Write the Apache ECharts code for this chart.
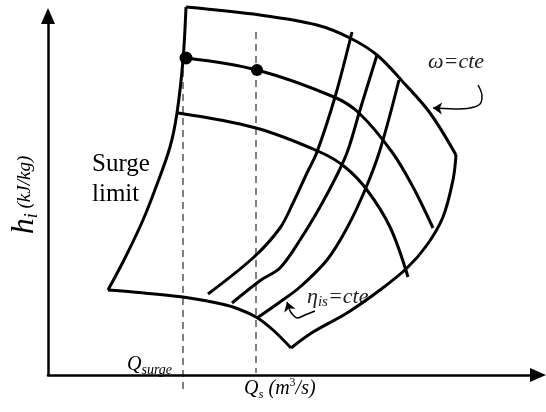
<!DOCTYPE html>
<html lang="en">
<head>
    <meta charset="UTF-8">
    <title>Compressor map</title>
    <style>
        * { margin: 0; padding: 0; }
        #main { width: 546px; height: 412px; background: #fff; }
    </style>
    <script src="https://cdn.jsdelivr.net/npm/echarts@6/dist/echarts.min.js"></script>
</head>
<body>
<div id="main"></div>
<script>
    // all points are [flow, head] in the chart's own units (origin at the axes corner)
    var topEdge = [[138, 368], [212, 360], [269, 350], [302, 337], [329, 320], [355, 293], [382, 262], [408, 220]];
    var rightEdge = [[408, 220], [405, 195], [395, 158], [379, 130], [359, 107], [332, 85], [299, 62], [265, 43], [243, 27]];
    var bottomEdge = [[243, 27], [225, 45], [208, 58], [185, 68], [169, 72], [135, 78], [85, 83], [60, 85]];
    var surgeLimit = [[60, 85], [77, 117], [95, 155], [108, 188], [122, 228], [129, 262], [135, 315], [138, 368]];

    // constant speed lines
    var speed2 = [[138, 317], [209, 305], [286, 278], [311, 262], [344, 223], [365, 188], [385, 147]];
    var speed3 = [[130, 262], [208, 247], [272, 223], [297, 208], [319, 185], [342, 148], [360, 98]];

    // constant efficiency lines
    var eta1 = [[160, 81], [206, 118], [232, 147], [245, 172], [259, 202], [269, 223], [287, 278], [304, 343]];
    var eta2 = [[184, 72], [213, 95], [232, 107], [252, 135], [272, 168], [290, 202], [300, 225], [312, 265], [329, 320]];
    var eta3 = [[209, 57], [232, 73], [252, 88], [279, 115], [299, 147], [317, 185], [332, 225], [351, 295]];

    var opPoints = [[138, 317, 13], [209, 305, 12]];
    var qSurge = [[135, 317], [135, -17]];
    var qOp = [[208, 343], [208, 2]];

    var omegaArrow = [[430, 290], [434, 279], [432, 271], [422, 267], [407, 266]];
    var omegaHead = [[407, 266], [385, 267]];
    var etaArrow = [[267, 64], [257, 60], [249, 57], [245, 60], [242, 64]];
    var etaHead = [[242, 64], [239, 73]];

    var SERIF = 'Liberation Serif';

    function curve(data, width, dashed) {
        return {
            type: 'line',
            data: data,
            smooth: dashed ? false : 0.35,
            symbol: 'none',
            clip: false,
            silent: true,
            lineStyle: { color: '#000', width: width, type: dashed ? [7, 5] : 'solid' }
        };
    }

    function head(data) {
        return {
            type: 'lines',
            coordinateSystem: 'cartesian2d',
            symbol: ['none', 'arrow'],
            symbolSize: 9,
            silent: true,
            lineStyle: { color: '#000', width: 1.5, opacity: 1 },
            data: [{ coords: data }]
        };
    }

    function it(size, lh, va) {
        return { fontFamily: SERIF, fontSize: size, fontStyle: 'italic', lineHeight: lh, verticalAlign: va };
    }

    var myChart = echarts.init(document.getElementById('main'));
    var option = {
        animation: false,
        backgroundColor: '#fff',
        grid: { left: 48, right: 8, top: 16, bottom: 37 },
        xAxis: {
            type: 'value', min: 0, max: 490,
            axisLine: { symbol: ['none', 'triangle'], symbolSize: [14, 16], lineStyle: { color: '#000', width: 2.5 } },
            axisTick: { show: false }, axisLabel: { show: false }, splitLine: { show: false }
        },
        yAxis: {
            type: 'value', min: 0, max: 359,
            axisLine: { show: true, symbol: ['none', 'triangle'], symbolSize: [14, 16], lineStyle: { color: '#000', width: 2.5 } },
            axisTick: { show: false }, axisLabel: { show: false }, splitLine: { show: false }
        },
        series: [
            curve(topEdge, 3), curve(rightEdge, 3), curve(bottomEdge, 3), curve(surgeLimit, 3),
            curve(speed2, 3), curve(speed3, 3),
            curve(eta1, 3), curve(eta2, 3), curve(eta3, 3),
            curve(qSurge, 1, true), curve(qOp, 1, true),
            curve(omegaArrow, 1.5), head(omegaHead),
            curve(etaArrow, 1.5), head(etaHead),
            {
                type: 'scatter',
                data: opPoints,
                symbolSize: function (v) { return v[2]; },
                itemStyle: { color: '#000', opacity: 1 },
                silent: true
            }
        ],
        graphic: [
            {
                type: 'text', x: 92, y: 149,
                style: { text: 'Surge\nlimit', font: '25px ' + SERIF, fontFamily: SERIF, fontSize: 25, lineHeight: 30, fill: '#000' }
            },
            {
                type: 'text', x: 428, y: 62,
                style: {
                    text: 'ω=cte', font: 'italic 22px ' + SERIF, fontFamily: SERIF, fontSize: 22, fontStyle: 'italic', fill: '#222',
                    verticalAlign: 'middle', textVerticalAlign: 'middle'
                }
            },
            {
                type: 'text', x: 307, y: 297,
                style: {
                    text: '{e|η}{s|is}{t|=cte}', fill: '#222', fontFamily: SERIF,
                    verticalAlign: 'middle', textVerticalAlign: 'middle',
                    rich: { e: it(22, 26, 'middle'), s: it(15, 15, 'bottom'), t: it(22, 26, 'middle') }
                }
            },
            {
                type: 'text', x: 127, y: 365,
                style: {
                    text: '{q|Q}{s|surge}', fill: '#000', fontFamily: SERIF,
                    verticalAlign: 'middle', textVerticalAlign: 'middle',
                    rich: { q: it(20, 24, 'middle'), s: it(14, 14, 'bottom') }
                }
            },
            {
                type: 'text', x: 244, y: 389,
                style: {
                    text: '{q|Q}{s|s}{n| (m}{p|3}{n|/s)}', fill: '#000', fontFamily: SERIF,
                    verticalAlign: 'middle', textVerticalAlign: 'middle',
                    rich: {
                        q: it(20, 24, 'middle'),
                        s: it(13, 13, 'bottom'),
                        n: it(20, 24, 'middle'),
                        p: { fontFamily: SERIF, fontSize: 12, lineHeight: 12, verticalAlign: 'top' }
                    }
                }
            },
            {
                type: 'text', x: 25, y: 195, rotation: Math.PI / 2,
                style: {
                    text: '{h|h}{i|i}{u| (kJ/kg)}', fill: '#000', fontFamily: SERIF,
                    align: 'center', textAlign: 'center',
                    verticalAlign: 'middle', textVerticalAlign: 'middle',
                    rich: { h: it(32, 32, 'middle'), i: it(18, 18, 'bottom'), u: it(19, 26, 'middle') }
                }
            }
        ]
    };
    myChart.setOption(option);
</script>
</body>
</html>
